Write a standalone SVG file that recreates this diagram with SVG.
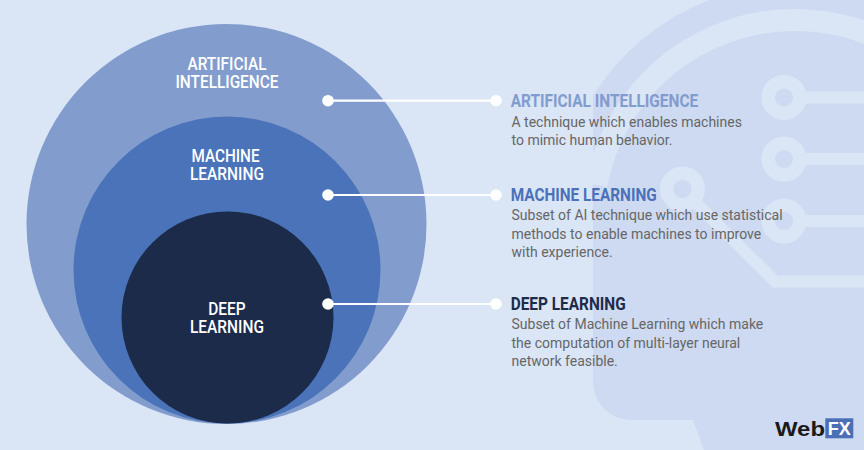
<svg xmlns="http://www.w3.org/2000/svg" width="864" height="450" viewBox="0 0 864 450">
  <style>
    .lbl { font-family: Roboto, "Liberation Sans", sans-serif; font-size: 18px; font-weight: 500; fill: #ffffff; text-anchor: middle; }
    .head { font-family: Roboto, "Liberation Sans", sans-serif; font-size: 18px; font-weight: 700; }
    .body { font-family: Roboto, "Liberation Sans", sans-serif; font-size: 14px; fill: #666666; }
    .circuit { fill: none; stroke: #dae5f6; }
    .conn { stroke: #ffffff; stroke-width: 2.2; fill: none; }
    .dot { fill: #ffffff; }
  </style>
  <defs>
    <clipPath id="headClip">
      <path d="M593,96 A238,238 0 0 1 864,-5.8 L870,-10 L870,455 L704,455 L704,450 L693,420 L631,420 A38,38 0 0 1 593,382 Z"/>
    </clipPath>
  </defs>

  <rect x="0" y="0" width="864" height="450" fill="#dae5f6"/>

  <!-- background head decoration -->
  <g id="head-decoration">
    <path d="M593,96 A238,238 0 0 1 864,-5.8 L864,450 L704,450 L693,420 L631,420 A38,38 0 0 1 593,382 Z" fill="#cedaf1"/>
    <g clip-path="url(#headClip)">
      <path class="circuit" stroke-width="22" d="M596.4,185 A202,202 0 0 1 900,49.4"/>
      <line class="circuit" stroke-width="12" x1="800" y1="97.5" x2="870" y2="97.5"/>
      <line class="circuit" stroke-width="12" x1="800" y1="159" x2="870" y2="159"/>
      <line class="circuit" stroke-width="12" x1="800" y1="221" x2="870" y2="221"/>
      <path class="circuit" stroke-width="12" d="M693,200 L775,281.5 L870,281.5"/>
      <circle class="circuit" stroke-width="13.5" cx="784" cy="97.5" r="15.8"/>
      <circle class="circuit" stroke-width="13.5" cx="784" cy="159" r="15.8"/>
      <circle class="circuit" stroke-width="13.5" cx="784" cy="221" r="15.8"/>
      <circle class="circuit" stroke-width="13.5" cx="682.5" cy="189" r="15.8"/>
    </g>
  </g>

  <!-- nodes -->
  <g id="node-ai">
    <circle cx="226.5" cy="224" r="200" fill="#829dcd"/>
    <text class="lbl" x="227" y="70" textLength="79" lengthAdjust="spacingAndGlyphs">ARTIFICIAL</text>
    <text class="lbl" x="227" y="88" textLength="103" lengthAdjust="spacingAndGlyphs">INTELLIGENCE</text>
  </g>
  <g id="node-ml">
    <circle cx="227" cy="270" r="153.5" fill="#4a73b9"/>
    <text class="lbl" x="225.5" y="162.3" textLength="68" lengthAdjust="spacingAndGlyphs">MACHINE</text>
    <text class="lbl" x="227" y="180" textLength="74" lengthAdjust="spacingAndGlyphs">LEARNING</text>
  </g>
  <g id="node-dl">
    <circle cx="227.5" cy="317.5" r="106" fill="#1c2b49"/>
    <text class="lbl" x="227" y="315" textLength="37.5" lengthAdjust="spacingAndGlyphs">DEEP</text>
    <text class="lbl" x="227" y="332.7" textLength="74" lengthAdjust="spacingAndGlyphs">LEARNING</text>
  </g>

  <!-- connectors -->
  <g id="connectors">
    <line class="conn" x1="328" y1="100.7" x2="496" y2="100.7"/>
    <circle class="dot" cx="328" cy="100.7" r="5.8"/>
    <circle class="dot" cx="496" cy="100.7" r="5.8"/>
    <line class="conn" x1="328" y1="195" x2="496" y2="195"/>
    <circle class="dot" cx="328" cy="195" r="5.8"/>
    <circle class="dot" cx="496" cy="195" r="5.8"/>
    <line class="conn" x1="328" y1="304" x2="496" y2="304"/>
    <circle class="dot" cx="328" cy="304" r="5.8"/>
    <circle class="dot" cx="496" cy="304" r="5.8"/>
  </g>

  <!-- descriptions -->
  <g id="desc-ai">
    <text class="head" x="510.7" y="106.7" fill="#819ccd" textLength="187.5" lengthAdjust="spacingAndGlyphs">ARTIFICIAL INTELLIGENCE</text>
    <text class="body" x="511.5" y="126.7">A technique which enables machines</text>
    <text class="body" x="511.5" y="145">to mimic human behavior.</text>
  </g>
  <g id="desc-ml">
    <text class="head" x="510.7" y="200.7" fill="#4a72b8" textLength="146" lengthAdjust="spacingAndGlyphs">MACHINE LEARNING</text>
    <text class="body" x="511.5" y="220.2">Subset of AI technique which use statistical</text>
    <text class="body" x="511.5" y="238.5">methods to enable machines to improve</text>
    <text class="body" x="511.5" y="256.8">with experience.</text>
  </g>
  <g id="desc-dl">
    <text class="head" x="510.7" y="310" fill="#1d2c4a" textLength="115" lengthAdjust="spacingAndGlyphs">DEEP LEARNING</text>
    <text class="body" x="511.5" y="329.3">Subset of Machine Learning which make</text>
    <text class="body" x="511.5" y="347.6">the computation of multi-layer neural</text>
    <text class="body" x="511.5" y="365.9">network feasible.</text>
  </g>

  <!-- logo -->
  <g id="logo">
    <text x="775" y="435.7" font-family="'Liberation Sans', Arial, sans-serif" font-size="19.5" font-weight="700" fill="#1a1a1a" textLength="50" lengthAdjust="spacingAndGlyphs">Web</text>
    <rect x="825.3" y="418.3" width="28" height="20" fill="#4b6fb5"/>
    <text x="839.3" y="435.2" font-family="'Liberation Sans', Arial, sans-serif" font-size="19" font-weight="700" fill="#ffffff" text-anchor="middle" textLength="23" lengthAdjust="spacingAndGlyphs">FX</text>
  </g>
</svg>
